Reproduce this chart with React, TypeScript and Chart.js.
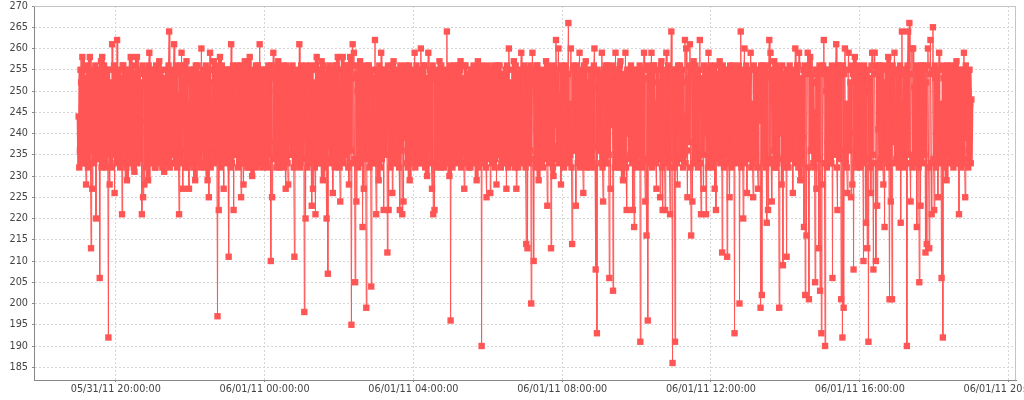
import React, { useEffect, useRef } from "react";
import { Chart, registerables } from "chart.js";

Chart.register(...registerables);

// Sampling: one reading per minute, starting 05/31/11 19:00 (minutes since 05/31/11 00:00)
const START_MINUTE = 1140;
const STEP_MINUTES = 1;
const X_MIN = 1068;
const X_MAX = 2652;
const X_TICK_STEP = 240;
const Y_MIN = 182;
const Y_MAX = 270;
const Y_TICK_STEP = 5;

// Readings, one array per hour (60 readings each)
const hour00 = [244,232,236,255,252,234,258,233,233,253,249,235,228,256,255,232,240,254,258,236,213,255,227,252,254,233,238,256,220,254,251,234,234,255,206,253,257,232,258,234,237,256,247,233,232,254,255,235,192,255,228,252,250,232,261,236,235,256,226,254];
const hour01 = [247,233,262,234,235,255,253,232,241,253,221,256,256,235,233,254,250,232,229,255,245,234,255,233,258,236,238,256,252,232,231,254,254,235,258,233,236,255,249,234,243,252,221,256,225,254,228,255,255,232,240,253,229,256,259,234,234,255,251,233];
const hour02 = [238,254,255,232,232,256,250,234,244,233,257,235,234,255,248,232,253,236,231,253,246,233,255,234,237,256,264,232,233,255,252,235,241,254,261,233,236,256,254,232,249,234,221,255,256,233,259,236,227,252,243,256,232,254,257,232,247,235,227,255];
const hour03 = [252,233,236,255,245,232,255,234,229,256,241,253,256,235,233,254,250,232,260,236,238,255,254,233,232,256,247,234,229,254,225,255,259,232,244,235,235,252,257,233,240,256,253,234,197,255,222,253,258,232,234,256,249,236,227,254,255,233,237,255];
const hour04 = [246,234,211,255,255,232,261,233,238,256,222,254,252,235,235,255,256,232,243,253,233,256,225,254,250,233,228,255,257,234,240,252,232,256,247,232,258,235,237,254,230,255,253,233,244,236,256,232,234,256,249,234,261,233,236,255,255,232,241,254];
const hour05 = [233,255,252,233,245,232,256,235,238,254,210,256,225,253,259,234,234,255,250,232,242,256,257,236,232,254,248,233,237,255,256,232,244,234,227,256,253,233,228,252,240,255,255,235,235,256,249,232,211,254,254,233,239,255,246,234,261,232,233,256];
const hour06 = [251,234,240,255,198,253,220,256,255,232,236,254,248,235,256,233,223,255,227,252,244,232,221,256,258,234,233,254,252,233,239,255,257,236,229,256,246,232,254,234,220,253,207,255,237,256,255,233,243,254,226,255,250,232,234,256,256,235,258,233];
const hour07 = [247,232,224,255,255,234,258,233,236,256,252,235,241,254,256,232,228,255,258,236,195,253,261,233,259,234,205,256,224,254,250,232,234,255,257,233,243,256,218,252,227,255,253,234,199,254,238,256,256,232,245,235,204,255,233,253,251,233,262,234];
const hour08 = [221,255,254,233,229,256,246,232,259,234,238,254,222,255,255,235,243,253,212,256,222,254,251,232,236,255,226,256,257,233,241,252,233,255,253,234,247,232,222,256,255,236,221,254,224,255,239,253,256,233,244,232,234,256,229,254,252,235,240,255];
const hour09 = [248,233,259,232,235,256,255,234,242,254,233,255,260,233,250,235,237,256,256,232,245,234,230,253,259,236,240,255,253,233,227,256,221,254,222,255,254,232,236,252,249,234,257,233,232,256,246,235,255,232,239,254,251,233,264,234,243,255,230,256];
const hour10 = [196,255,253,232,238,254,256,234,245,233,234,256,251,235,241,255,257,232,233,253,248,236,227,256,256,233,237,254,252,232,244,234,232,255,255,233,240,256,250,235,236,252,229,255,257,232,246,234,234,256,190,254,253,233,242,255,255,232,225,256];
const hour11 = [249,234,237,255,226,253,255,233,243,256,252,232,234,254,228,255,256,235,240,256,247,232,233,254,254,236,245,233,238,255,227,256,255,232,260,234,236,252,250,233,242,255,257,235,232,256,227,254,248,232,253,234,239,255,259,233,244,236,235,256];
const hour12 = [255,232,214,254,213,255,247,233,236,256,200,253,259,234,210,255,252,232,241,256,256,235,229,254,244,233,233,255,254,232,239,252,250,234,257,236,223,256,246,233,235,255,213,254,255,232,230,256,242,253,262,234,237,255,260,233,249,235,228,256];
const hour13 = [243,255,255,232,234,256,250,234,239,254,266,233,247,235,260,232,214,255,256,236,236,253,223,256,252,233,241,254,259,232,233,255,254,234,226,256,245,233,257,232,238,252,250,235,232,255,255,234,244,233,237,256,260,232,208,254,193,255,251,236];
const hour14 = [236,254,254,233,259,232,224,255,247,234,256,233,233,256,251,235,206,253,227,255,242,256,203,254,255,232,259,234,238,255,249,233,232,256,257,232,244,236,229,254,253,233,259,232,222,255,240,252,255,234,235,256,248,233,222,254,218,255,252,232];
const hour15 = [244,233,255,235,238,256,191,254,250,232,233,255,259,234,224,253,216,256,196,255,253,233,241,254,259,232,236,256,256,234,247,233,227,255,252,236,234,252,225,256,257,232,222,254,245,235,222,255,259,233,238,256,251,232,221,254,264,234,186,255];
const hour16 = [249,232,191,255,255,233,228,256,241,254,256,234,235,255,252,232,244,235,262,233,260,236,225,253,238,256,261,232,216,255,224,254,257,233,233,256,250,234,246,232,237,255,262,233,221,252,253,235,227,256,240,254,221,255,255,232,259,234,234,256];
const hour17 = [246,233,254,232,237,255,227,256,222,254,250,234,241,253,257,233,234,255,212,256,253,232,245,235,238,254,211,255,255,233,225,256,248,232,233,254,256,234,193,255,243,252,251,233,236,256,200,254,264,232,254,236,220,255,260,233,240,256,226,254];
const hour18 = [252,234,238,255,259,232,247,233,225,256,255,235,234,254,250,232,227,255,243,253,199,256,202,254,256,233,236,255,253,232,219,256,222,254,262,234,259,233,224,255,248,236,257,232,232,256,245,233,251,234,199,255,240,252,228,256,209,254,254,232];
const hour19 = [244,233,211,255,255,232,237,256,250,234,241,254,226,255,253,235,260,233,234,256,256,232,259,234,229,253,247,233,239,255,218,256,202,254,216,255,259,232,201,256,258,236,236,254,252,233,245,232,205,255,227,252,255,234,213,256,203,254,193,255];
const hour20 = [228,256,262,233,190,254,250,232,238,255,255,234,244,233,233,256,206,253,252,235,241,255,261,232,222,256,256,234,236,254,201,255,192,256,199,254,260,233,247,232,226,255,259,236,240,252,225,256,228,254,208,255,258,233,253,232,235,256,249,234];
const hour21 = [255,232,237,255,246,233,210,256,253,234,219,254,213,255,191,253,250,232,226,256,259,235,208,254,259,233,210,255,223,256,241,254,256,232,234,255,251,234,228,256,218,252,244,233,255,236,258,232,201,255,224,254,201,256,238,255,259,233,247,234];
const hour22 = [240,255,254,232,236,256,219,254,264,233,247,234,255,232,233,255,190,256,264,235,266,233,224,254,260,232,260,234,251,233,238,256,218,255,255,232,205,254,223,256,246,233,256,235,235,255,212,252,214,256,260,232,213,254,262,233,221,255,265,234];
const hour23 = [222,256,253,232,240,254,225,255,259,233,247,234,206,256,192,253,255,232,237,255,229,256,251,235,243,254,256,233,234,255,252,232,245,234,238,256,257,233,233,254,221,255,250,232,244,236,255,233,259,234,225,256,239,254,253,232,236,255,247,233];
const lastReading = [248];

const readings: number[] = [
  ...hour00, ...hour01, ...hour02, ...hour03, ...hour04, ...hour05,
  ...hour06, ...hour07, ...hour08, ...hour09, ...hour10, ...hour11,
  ...hour12, ...hour13, ...hour14, ...hour15, ...hour16, ...hour17,
  ...hour18, ...hour19, ...hour20, ...hour21, ...hour22, ...hour23,
  ...lastReading,
];

const RED = "#ff5555";
const FONT = { family: "'DejaVu Sans', sans-serif", size: 9.7 };
// readings inside the normal operating range are drawn with a heavier line
const NORMAL_LOW = 229;
const NORMAL_HIGH = 258;

function pad2(n: number) {
  return n < 10 ? "0" + n : String(n);
}

function formatMinute(m: number) {
  const dayOffset = Math.floor(m / 1440);
  const rem = m - dayOffset * 1440;
  let month = 5;
  let day = 31 + dayOffset;
  if (day > 31) {
    month = 6;
    day -= 31;
  }
  const h = Math.floor(rem / 60);
  const mi = rem % 60;
  return `${pad2(month)}/${pad2(day)}/11 ${pad2(h)}:${pad2(mi)}:00`;
}

const framePlugin = {
  id: "frame",
  beforeDatasetsDraw(chart: any) {
    const { ctx, chartArea } = chart;
    ctx.save();
    ctx.strokeStyle = "#c4c4c4";
    ctx.lineWidth = 1;
    ctx.beginPath();
    ctx.moveTo(chartArea.left, chartArea.top + 0.5);
    ctx.lineTo(chartArea.right, chartArea.top + 0.5);
    ctx.moveTo(chartArea.right - 0.5, chartArea.top);
    ctx.lineTo(chartArea.right - 0.5, chartArea.bottom);
    ctx.stroke();
    ctx.restore();
  },
};

export default function App() {
  const canvasRef = useRef<HTMLCanvasElement | null>(null);

  useEffect(() => {
    if (!canvasRef.current) return;
    const points = readings.map((v, i) => ({ x: START_MINUTE + i * STEP_MINUTES, y: v }));
    const inBand = (v: number) => v >= NORMAL_LOW && v <= NORMAL_HIGH;
    const gridOpts: any = {
      color: "#d6d6d6",
      tickLength: 2,
      tickColor: "#888",
      tickBorderDash: [],
    };
    const chart = new Chart(canvasRef.current, {
      type: "line",
      data: {
        datasets: [
          {
            data: points,
            borderColor: RED,
            borderWidth: 1,
            backgroundColor: RED,
            pointStyle: "rect",
            pointRadius: 4.5,
            pointBorderWidth: 0,
            pointBackgroundColor: RED,
            tension: 0,
            fill: false,
            segment: {
              borderWidth: (c: any) =>
                inBand(c.p0.parsed.y) && inBand(c.p1.parsed.y) ? 4 : 1,
            },
          },
        ],
      },
      options: {
        animation: false,
        responsive: true,
        maintainAspectRatio: false,
        layout: { padding: { left: 0, right: 8, top: 6, bottom: 0 } },
        plugins: { legend: { display: false }, tooltip: { enabled: false } },
        scales: {
          x: {
            type: "linear",
            min: X_MIN,
            max: X_MAX,
            ticks: {
              stepSize: X_TICK_STEP,
              includeBounds: false,
              autoSkip: false,
              maxRotation: 0,
              minRotation: 0,
              padding: 2,
              color: "#444",
              font: FONT,
              callback: (v: any) => formatMinute(Number(v)),
            },
            grid: gridOpts,
            border: { display: true, color: "#888", width: 1, dash: [2, 2] },
            afterFit: (s: any) => {
              s.height = 20;
              s.paddingLeft = 0;
              s.paddingRight = 0;
            },
          },
          y: {
            type: "linear",
            min: Y_MIN,
            max: Y_MAX,
            ticks: {
              stepSize: Y_TICK_STEP,
              includeBounds: false,
              autoSkip: false,
              padding: 4,
              color: "#444",
              font: FONT,
            },
            grid: gridOpts,
            border: { display: true, color: "#888", width: 1, dash: [2, 2] },
            afterFit: (s: any) => {
              s.width = 34;
              s.paddingTop = 0;
              s.paddingBottom = 0;
            },
          },
        },
      } as any,
      plugins: [framePlugin],
    });
    return () => chart.destroy();
  }, []);

  return (
    <div style={{ position: "fixed", left: 0, top: 0, width: 1024, height: 400, background: "#fff" }}>
      <canvas ref={canvasRef} />
    </div>
  );
}
